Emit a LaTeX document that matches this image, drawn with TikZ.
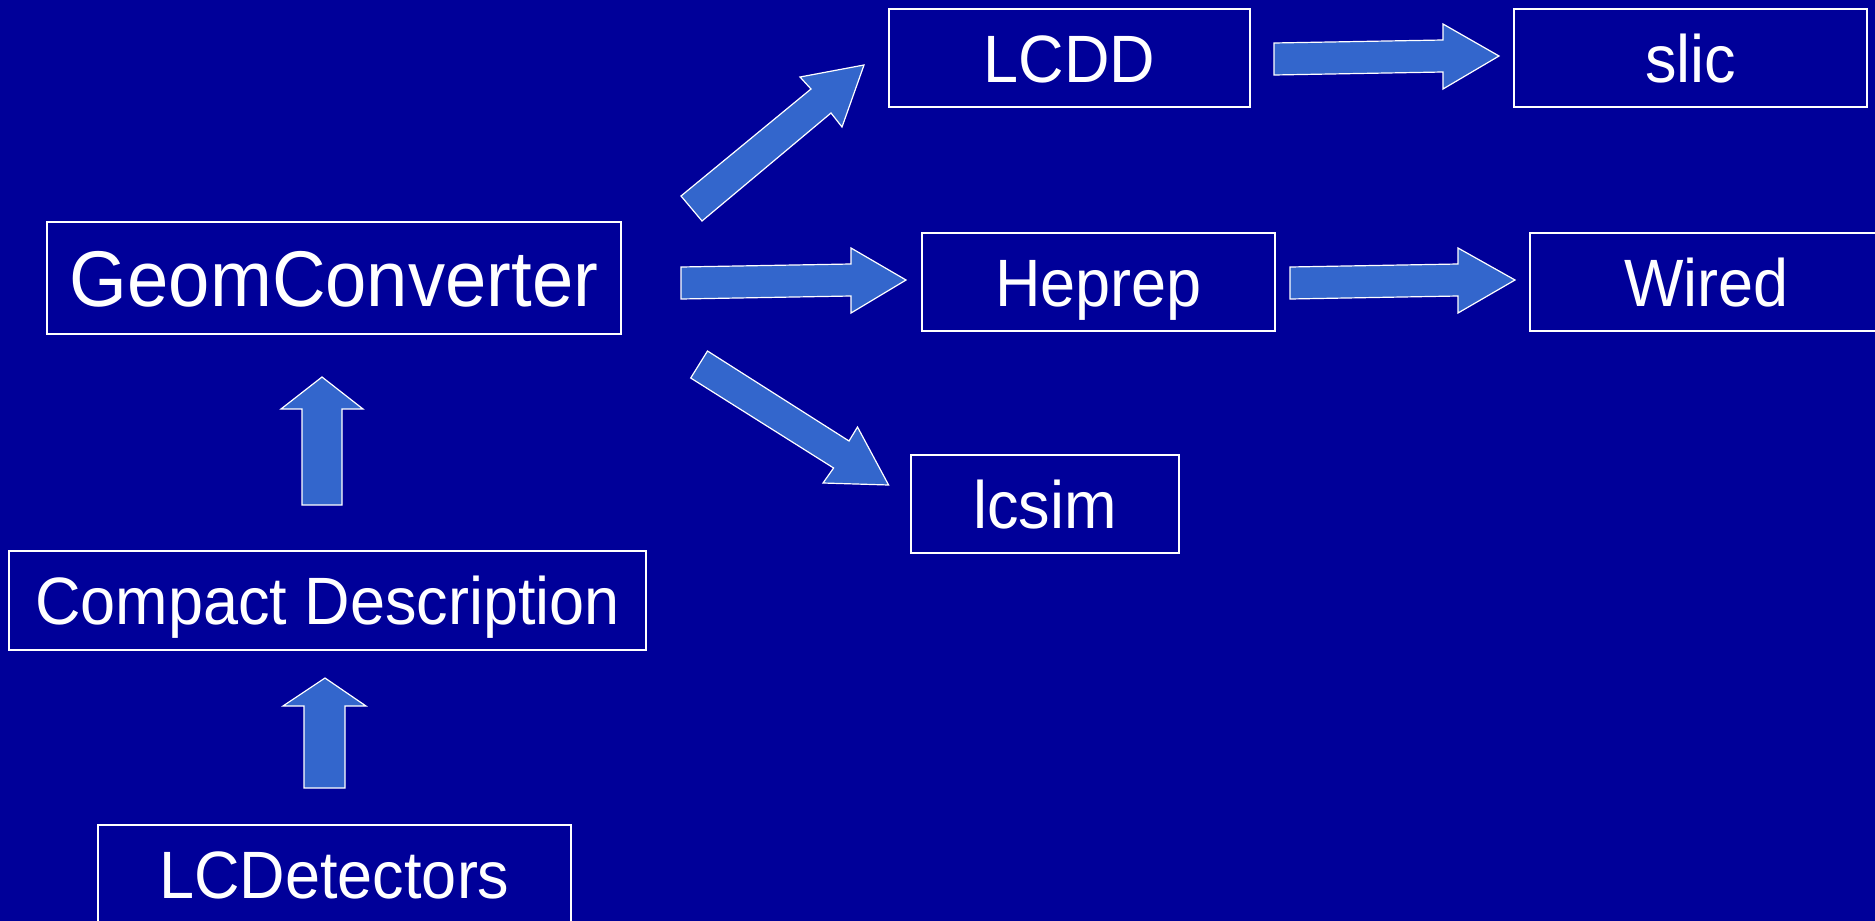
\documentclass[tikz,border=0pt]{standalone}
\usepackage{fontspec}
\setmainfont[FakeStretch=0.94]{Liberation Sans}
\definecolor{bgblue}{RGB}{0,0,153}
\definecolor{arrowblue}{RGB}{51,102,204}
\begin{document}
\begin{tikzpicture}[x=0.5pt,y=-0.5pt,
  box/.style={draw=white, line width=0.6pt, rectangle, inner sep=0pt,
    text=white, font=\fontsize{33.5pt}{40pt}\selectfont,
    text height=24pt, text depth=0pt, minimum height=49pt},
  bigbox/.style={box, font=\fontsize{39.5pt}{47pt}\selectfont, text height=28.3pt, minimum height=56pt},
  blockarrow/.style={draw=white, fill=arrowblue, line width=0.6pt, line join=miter}]
\fill[bgblue] (0,0) rectangle (1875,921);
\useasboundingbox (0,0) rectangle (1875,921);

\node[box, minimum width=180.5pt] (lcdd) at (1069.5,58) {LCDD};
\node[box, minimum width=176.5pt] (slic) at (1690.5,58) {slic};
\node[bigbox, minimum width=287pt] (geom) at (334,278) {GeomConverter};
\node[box, minimum width=176.5pt] (heprep) at (1098.5,282) {Heprep};
\node[box, minimum width=176.5pt] (wired) at (1706.5,282) {Wired};
\node[box, minimum width=134pt] (lcsim) at (1045,504) {lcsim};
\node[box, minimum width=318.5pt, minimum height=49.5pt] (compact) at (327.5,600.5) {Compact Description};
\node[box, minimum width=236.5pt] (lcdet) at (334.5,874) {LCDetectors};

% LCDetectors -> Compact Description
\draw[blockarrow] (304,788) -- (304,706) -- (283,706) -- (325,678) -- (366,706) -- (345,706) -- (345,788) -- cycle;
% Compact Description -> GeomConverter
\draw[blockarrow] (302,505) -- (302,409) -- (281,409) -- (322,377) -- (363,409) -- (342,409) -- (342,505) -- cycle;
% GeomConverter -> LCDD
\draw[blockarrow] (702,221) -- (831,113) -- (842,127) -- (864,65) -- (800,77) -- (811,89) -- (681,196) -- cycle;
% GeomConverter -> Heprep
\draw[blockarrow] (681,267) -- (851,264) -- (851,248) -- (906,280) -- (851,313) -- (851,296) -- (681,299) -- cycle;
% GeomConverter -> lcsim
\draw[blockarrow] (707.5,351) -- (849,441) -- (857.5,427) -- (888.6,485) -- (823,483) -- (833.6,468) -- (690.7,378) -- cycle;
% LCDD -> slic
\draw[blockarrow] (1274,43) -- (1443,40) -- (1443,24) -- (1499,56) -- (1443,89) -- (1443,72) -- (1274,75) -- cycle;
% Heprep -> Wired
\draw[blockarrow] (1290,267) -- (1458,264) -- (1458,248) -- (1515,280) -- (1458,313) -- (1458,296) -- (1290,299) -- cycle;
\end{tikzpicture}
\end{document}
